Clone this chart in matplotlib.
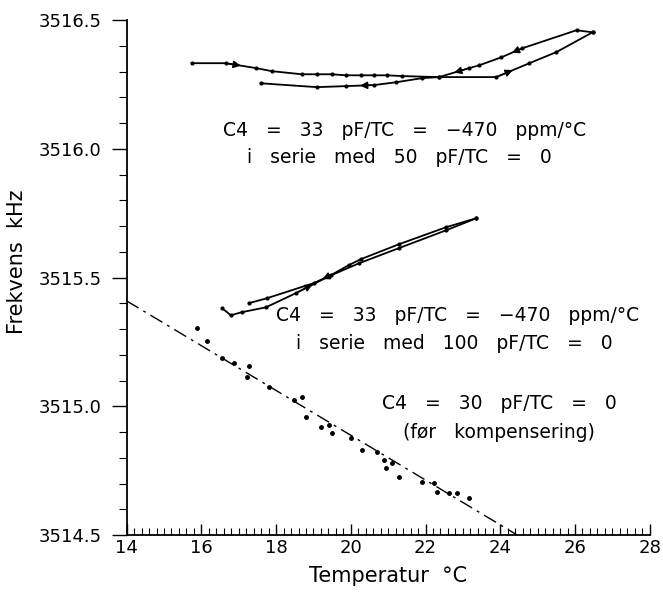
import numpy as np
import matplotlib
matplotlib.use("Agg")
import matplotlib.pyplot as plt
from matplotlib.ticker import MultipleLocator, FixedLocator

plt.rcParams['font.family'] = ['DejaVu Sans']

# ----------------------------
# Data
# ----------------------------
# C4 = 33 pF / -470 ppm in series with 50 pF
top_heat_t = [15.74, 16.65, 17.46, 17.89, 18.69, 19.09, 19.49, 19.87, 20.27, 20.62,
              20.97, 21.37, 22.36, 23.89, 24.78, 25.50, 26.47]
top_heat_f = [3516.333, 3516.333, 3516.314, 3516.302, 3516.290, 3516.290, 3516.290,
              3516.286, 3516.286, 3516.286, 3516.286, 3516.283, 3516.279, 3516.279,
              3516.333, 3516.376, 3516.453]
top_cool_t = [26.47, 26.04, 24.59, 24.03, 23.44, 23.17, 22.36, 21.91, 21.21, 20.62,
              19.87, 19.09, 17.59]
top_cool_f = [3516.453, 3516.461, 3516.391, 3516.356, 3516.325, 3516.314, 3516.279,
              3516.275, 3516.259, 3516.248, 3516.244, 3516.240, 3516.255]

# C4 = 33 pF / -470 ppm in series with 100 pF
mid_heat_t = [16.55, 16.79, 17.08, 17.73, 18.53, 19.42, 20.22, 21.29, 22.55, 23.36]
mid_heat_f = [3515.382, 3515.354, 3515.366, 3515.385, 3515.440, 3515.506, 3515.556,
              3515.615, 3515.684, 3515.731]
mid_cool_t = [23.36, 22.55, 21.29, 20.27, 19.95, 19.47, 19.01, 17.75, 17.27]
mid_cool_f = [3515.731, 3515.696, 3515.630, 3515.572, 3515.549, 3515.510, 3515.479,
              3515.420, 3515.401]

# C4 = 30 pF / TC = 0 (before compensation)
raw_t = [15.88, 16.14, 16.55, 16.87, 17.27, 17.22, 17.81, 18.48, 18.69, 18.80, 19.20,
         19.42, 19.50, 20.01, 20.30, 20.70, 20.89, 20.94, 21.10, 21.29, 21.91, 22.23,
         22.31, 22.63, 22.85, 23.17]
raw_f = [3515.304, 3515.253, 3515.187, 3515.168, 3515.156, 3515.114, 3515.075,
         3515.024, 3515.036, 3514.958, 3514.919, 3514.927, 3514.896, 3514.877,
         3514.830, 3514.822, 3514.791, 3514.760, 3514.780, 3514.725, 3514.706,
         3514.702, 3514.667, 3514.663, 3514.663, 3514.644]
fit_t = [14.0, 24.46]
fit_f = [3515.41, 3514.50]

x_ticks = [14, 16, 18, 20, 22, 24, 26, 28]
y_ticks = [3514.5, 3515.0, 3515.5, 3516.0, 3516.5]
y_labels = ["3514.5", "3515.0", "3515.5", "3516.0", "3516.5"]


def add_arrow(ax, xs, ys, i):
    # arrow head in the middle of segment i, pointing along the curve
    x0, y0, x1, y1 = xs[i], ys[i], xs[i + 1], ys[i + 1]
    xm, ym = (x0 + x1) / 2, (y0 + y1) / 2
    ax.annotate("", xy=(xm, ym), xytext=(x0 + (xm - x0) * 0.2, y0 + (ym - y0) * 0.2),
                arrowprops=dict(arrowstyle="-|>", color="black", lw=1.0,
                                mutation_scale=11, shrinkA=0, shrinkB=0))


fig = plt.figure(figsize=(6.63, 5.94), dpi=100)
ax = fig.add_axes([0.191, 0.099, 0.789, 0.867])

line_kw = dict(color="black", lw=1.3, marker=".", ms=4)
ax.plot(top_heat_t, top_heat_f, **line_kw)
ax.plot(top_cool_t, top_cool_f, **line_kw)
ax.plot(mid_heat_t, mid_heat_f, **line_kw)
ax.plot(mid_cool_t, mid_cool_f, **line_kw)

add_arrow(ax, top_heat_t, top_heat_f, 1)
add_arrow(ax, top_heat_t, top_heat_f, 13)
add_arrow(ax, top_cool_t, top_cool_f, 2)
add_arrow(ax, top_cool_t, top_cool_f, 5)
add_arrow(ax, top_cool_t, top_cool_f, 9)
add_arrow(ax, mid_heat_t, mid_heat_f, 4)
add_arrow(ax, mid_cool_t, mid_cool_f, 5)

ax.plot(fit_t, fit_f, color="black", lw=1.0, dashes=(10, 4, 2, 4))
ax.plot(raw_t, raw_f, ls="none", marker="o", ms=2.5, color="black")

txt = dict(ha="center", va="center", fontsize=13.5)
ax.text(21.45, 3516.07, "C4   =   33   pF/TC   =   \u2212470   ppm/\u00b0C", **txt)
ax.text(21.3, 3515.965, "i   serie   med   50   pF/TC   =   0", **txt)
ax.text(22.87, 3515.355, "C4   =   33   pF/TC   =   \u2212470   ppm/\u00b0C", **txt)
ax.text(22.77, 3515.245, "i   serie   med   100   pF/TC   =   0", **txt)
ax.text(23.97, 3515.01, "C4   =   30   pF/TC   =   0", **txt)
ax.text(23.97, 3514.90, "(f\u00f8r   kompensering)", **txt)

ax.set_xlim(14, 28)
ax.set_ylim(3514.5, 3516.5)
ax.xaxis.set_major_locator(FixedLocator(x_ticks))
ax.xaxis.set_minor_locator(MultipleLocator(0.2))
ax.yaxis.set_major_locator(FixedLocator(y_ticks))
ax.yaxis.set_minor_locator(MultipleLocator(0.1))
ax.set_yticklabels(y_labels)

ax.tick_params(axis="x", which="major", direction="in", length=8, width=1, labelsize=13, pad=3)
ax.tick_params(axis="x", which="minor", direction="in", length=5, width=0.8)
ax.tick_params(axis="y", which="major", direction="out", length=11, width=1, labelsize=13, pad=7)
ax.tick_params(axis="y", which="minor", direction="out", length=6, width=0.8)

for side in ["top", "right"]:
    ax.spines[side].set_visible(False)
ax.spines["left"].set_linewidth(1.3)
ax.spines["bottom"].set_linewidth(1.3)

ax.set_xlabel("Temperatur  \u00b0C", fontsize=15, labelpad=6)
ax.set_ylabel("Frekvens  kHz", fontsize=15)
ax.yaxis.set_label_coords(-0.19, 0.53)

fig.savefig("out.png", dpi=100)
